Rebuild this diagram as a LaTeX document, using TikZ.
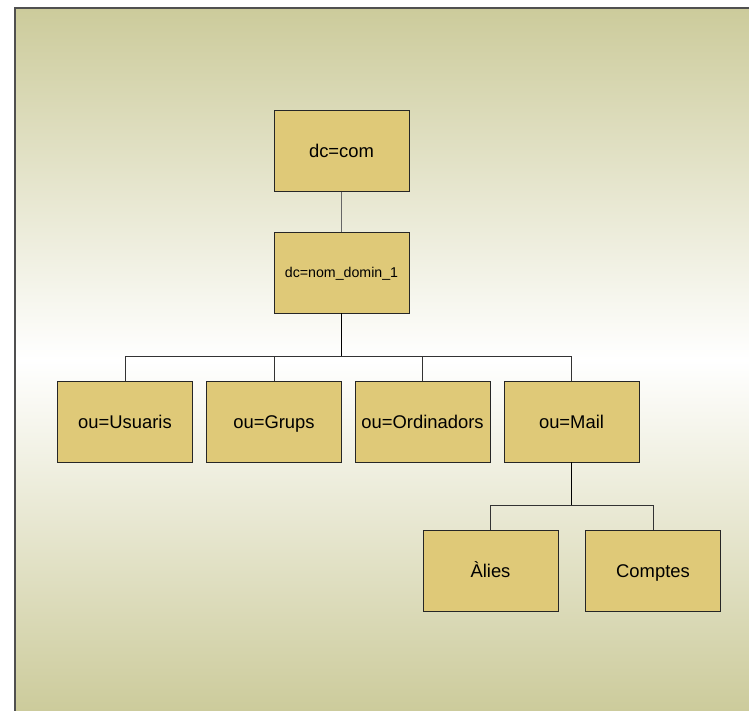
\documentclass[tikz,border=0pt]{standalone}
\usepackage{fontspec}
\setmainfont{Liberation Sans}
\definecolor{bgkhaki}{RGB}{204,203,155}
\definecolor{boxfill}{RGB}{223,201,120}
\definecolor{framegray}{RGB}{80,80,80}
\begin{document}
\begin{tikzpicture}[x=1pt,y=-1pt,
  entry/.style={draw=black!85, fill=boxfill, line width=0.9pt,
    minimum width=135pt, minimum height=81pt, inner sep=0pt,
    text height=13pt, text depth=0pt,
    font=\fontsize{18.4}{20}\selectfont},
  link/.style={draw=black!80, line width=0.9pt},
  trunk/.style={draw=black, line width=1.8pt}]
  \useasboundingbox (0,0) rectangle (749,710);
  % page background and shaded panel
  \fill[white] (0,0) rectangle (749,710);
  \shade[top color=bgkhaki, bottom color=bgkhaki, middle color=white]
    (15,8) rectangle (752,712);
  \draw[framegray, line width=1.6pt] (15,712) -- (15,8) -- (752,8);

  % directory tree
  \node[entry] (com) at (341.5,151) {dc=com};
  \node[entry, font=\fontsize{14.2}{16}\selectfont, text height=10pt]
    (nom) at (341.5,272.5) {dc=nom\_domin\_1};
  \node[entry] (usu) at (125,421.5) {ou=Usuaris};
  \node[entry] (grp) at (274,421.5) {ou=Grups};
  \node[entry] (ord) at (422.5,421.5) {ou=Ordinadors};
  \node[entry] (mail) at (571.5,421.5) {ou=Mail};
  \node[entry] (ali) at (490.5,570.5) {Àlies};
  \node[entry] (cpt) at (653,570.5) {Comptes};

  \coordinate (j1) at (341.5,356);
  \coordinate (j2) at (571.5,505);

  \draw[link, draw=black!60] (com) -- (nom);
  \draw[trunk] (nom) -- (j1);
  \draw[link] (usu.north) -- (usu.north |- j1) -- (mail.north |- j1) -- (mail.north);
  \draw[link] (grp.north) -- (grp.north |- j1);
  \draw[link] (ord.north) -- (ord.north |- j1);
  \draw[trunk] (mail) -- (j2);
  \draw[link] (ali.north) -- (ali.north |- j2) -- (cpt.north |- j2) -- (cpt.north);
\end{tikzpicture}
\end{document}
